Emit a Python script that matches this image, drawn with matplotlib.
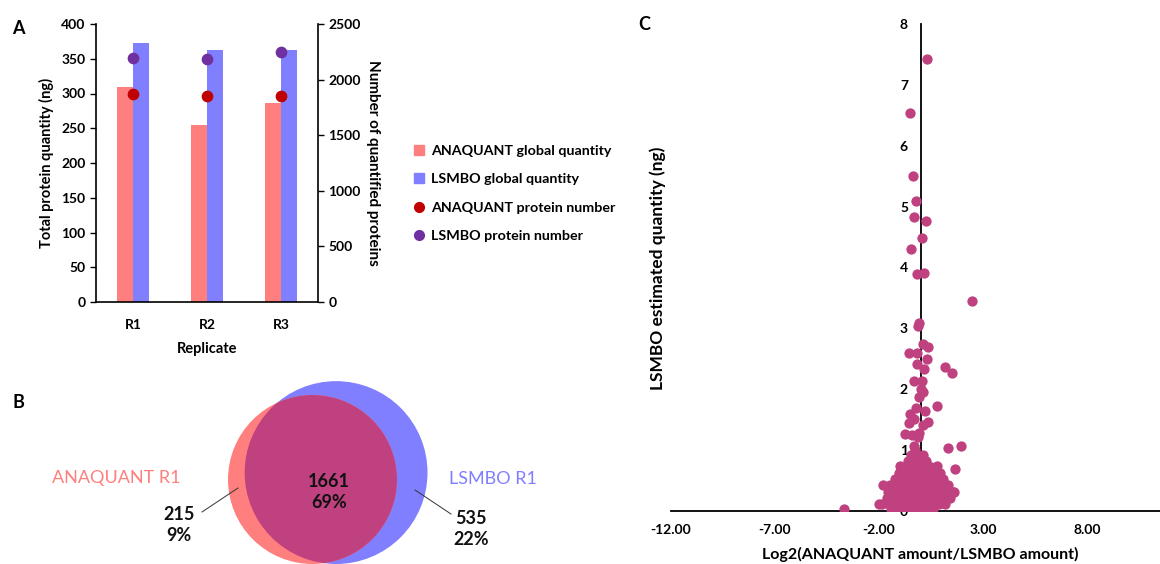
import numpy as np
import matplotlib
matplotlib.use("Agg")
import matplotlib.pyplot as plt
from matplotlib.patches import Circle
from matplotlib.lines import Line2D

plt.rcParams["font.family"] = ["Lato", "DejaVu Sans"]

# ---- panel A data
replicates = ["R1", "R2", "R3"]
anaquant_qty = [310, 254, 286]
lsmbo_qty = [372, 362, 363]
anaquant_prot = [1873, 1855, 1850]
lsmbo_prot = [2197, 2182, 2245]

# ---- panel B data
only_anaquant = 215
shared = 1661
only_lsmbo = 535
pct_anaquant = "9%"
pct_shared = "69%"
pct_lsmbo = "22%"

# ---- panel C data
log2_ratio = [
    0.29, -0.49, -0.35, -0.24, -0.32, 0.27, 0.08, -0.45, -0.18, 0.18, 2.50,
    -0.06, -0.11, 0.13, 0.34, -0.56, -0.19, 0.29, -0.19, 0.19, 1.17, 1.52,
    -0.30, 0.05, 0.02, 0.10, -0.08, 0.77, -0.21, 0.24, -0.50, -0.30, -0.56,
    0.34, 0.13, -0.75, -0.43, -0.08, -0.14, -0.30, 1.30, 1.97, 1.65, -1.00,
    -3.67, -2.00, -1.80, 1.60, 0.77,
    -1.4, -1.0, -0.6, -0.2, 0.2, 0.6,
    -1.85, -1.5, -1.1, -0.7, -0.3, 0.1, 0.5, 0.9, 1.2,
    -1.6, -1.25, -0.9, -0.55, -0.2, 0.15, 0.5, 0.85, 1.2, 1.4,
    -1.55, -1.2, -0.85, -0.5, -0.15, 0.2, 0.55, 0.9, 1.25, 1.55,
    -1.45, -1.1, -0.75, -0.4, -0.05, 0.3, 0.65, 1.0, 1.3,
    -1.25, -0.9, -0.55, -0.2, 0.15, 0.5, 0.85, 1.1,
    -1.05, -0.7, -0.35, 0.0, 0.35, 0.7, 0.95,
    -0.85, -0.5, -0.15, 0.2, 0.5,
    -0.6, -0.3, 0.0, 0.25,
    -0.45, -0.15, 0.1,
    -0.25,
]
lsmbo_est = [
    7.42, 6.54, 5.51, 5.09, 4.83, 4.77, 4.48, 4.31, 3.89, 3.91, 3.45,
    3.09, 3.04, 2.74, 2.70, 2.59, 2.59, 2.50, 2.41, 2.33, 2.36, 2.26,
    2.13, 2.13, 2.01, 1.95, 1.87, 1.72, 1.70, 1.64, 1.59, 1.51, 1.45,
    1.47, 1.41, 1.26, 1.25, 1.28, 1.22, 1.06, 1.03, 1.06, 0.69, 0.74,
    0.04, 0.11, 0.42, 0.32, 0.74,
    0.04, 0.04, 0.04, 0.04, 0.04, 0.04,
    0.12, 0.12, 0.12, 0.12, 0.12, 0.12, 0.12, 0.12, 0.12,
    0.22, 0.22, 0.22, 0.22, 0.22, 0.22, 0.22, 0.22, 0.22, 0.22,
    0.32, 0.32, 0.32, 0.32, 0.32, 0.32, 0.32, 0.32, 0.32, 0.32,
    0.42, 0.42, 0.42, 0.42, 0.42, 0.42, 0.42, 0.42, 0.42,
    0.52, 0.52, 0.52, 0.52, 0.52, 0.52, 0.52, 0.52,
    0.62, 0.62, 0.62, 0.62, 0.62, 0.62, 0.62,
    0.72, 0.72, 0.72, 0.72, 0.72,
    0.82, 0.82, 0.82, 0.82,
    0.92, 0.92, 0.92,
    1.00,
]

RED = "#FF7F7F"
BLUE = "#7F7FFF"
DOT_RED = "#C00000"
DOT_PURPLE = "#7030A0"
MIX = "#C0417F"

W, H = 1160, 564
fig = plt.figure(figsize=(W / 100, H / 100), dpi=100)


def box(x0, y0, x1, y1):
    # pixel box (top-left origin) -> figure fraction
    return [x0 / W, 1 - y1 / H, (x1 - x0) / W, (y1 - y0) / H]


# ================= A
ax = fig.add_axes(box(96, 24, 318, 302))
x = np.arange(len(replicates))
bw = 0.21
ax.bar(x - bw / 2, anaquant_qty, bw, color=RED, zorder=1)
ax.bar(x + bw / 2, lsmbo_qty, bw, color=BLUE, zorder=1)
ax.set_xlim(-0.5, 2.5)
ax.set_ylim(0, 400)
ax.set_yticks(range(0, 401, 50))
ax.set_xticks(x)
ax.set_xticklabels(replicates)
ax.tick_params(axis="x", length=0, pad=12)
ax.tick_params(axis="y", length=4, width=1)
for s in ["top", "right"]:
    ax.spines[s].set_visible(False)
ax.spines["left"].set_linewidth(1.2)
ax.spines["bottom"].set_linewidth(1.2)
ax.set_ylabel("Total protein quantity (ng)", fontsize=10.5, fontweight="bold", labelpad=5)
ax.set_xlabel("Replicate", fontsize=10.5, fontweight="bold", labelpad=8)

ax2 = ax.twinx()
ax2.scatter(x, anaquant_prot, s=55, color=DOT_RED, zorder=3)
ax2.scatter(x, lsmbo_prot, s=55, color=DOT_PURPLE, zorder=3)
ax2.set_ylim(0, 2500)
ax2.set_yticks(range(0, 2501, 500))
ax2.tick_params(axis="y", length=4, width=1)
for s in ["top", "left", "bottom"]:
    ax2.spines[s].set_visible(False)
ax2.spines["right"].set_linewidth(1.2)
ax2.set_ylabel("Number of quantified proteins", fontsize=11, fontweight="bold",
               rotation=270, labelpad=14)

for a in (ax, ax2):
    for lab in a.get_xticklabels() + a.get_yticklabels():
        lab.set_fontweight("bold")
        lab.set_fontsize(10)

handles = [
    Line2D([], [], marker="s", ls="", color=RED, markersize=7),
    Line2D([], [], marker="s", ls="", color=BLUE, markersize=7),
    Line2D([], [], marker="o", ls="", color=DOT_RED, markersize=7),
    Line2D([], [], marker="o", ls="", color=DOT_PURPLE, markersize=7),
]
labels = ["ANAQUANT global quantity", "LSMBO global quantity",
          "ANAQUANT protein number", "LSMBO protein number"]
fig.legend(handles, labels, loc="upper left", bbox_to_anchor=(400 / W, 1 - 132 / H),
           frameon=False, handlelength=0.8, handletextpad=0.45, labelspacing=1.15,
           prop={"size": 10.3, "weight": "bold"})

fig.text(12 / W, 1 - 28 / H, "A", fontsize=13, fontweight="bold", va="center")

# ================= B
axb = fig.add_axes(box(0, 380, 560, 564))
axb.set_xlim(0, 560)
axb.set_ylim(0, 184)
axb.axis("off")

n_a = only_anaquant + shared
n_l = only_lsmbo + shared
scale = 84.5 / np.sqrt(n_a)
r_a = scale * np.sqrt(n_a)
r_l = scale * np.sqrt(n_l)


def lens(d, r1, r2):
    a1 = np.arccos((d * d + r1 * r1 - r2 * r2) / (2 * d * r1))
    a2 = np.arccos((d * d + r2 * r2 - r1 * r1) / (2 * d * r2))
    return r1 * r1 * (a1 - np.sin(2 * a1) / 2) + r2 * r2 * (a2 - np.sin(2 * a2) / 2)


# centre distance so the overlap area matches the shared count
target = np.pi * r_a ** 2 * shared / n_a
lo, hi = abs(r_l - r_a) + 1e-6, r_a + r_l
for _ in range(60):
    mid = (lo + hi) / 2
    if lens(mid, r_a, r_l) > target:
        lo = mid
    else:
        hi = mid
d = (lo + hi) / 2
dy = r_l - r_a
dx = np.sqrt(max(d * d - dy * dy, 0))
ca = (312.5, r_a)
cl = (312.5 + dx, r_l)

axb.add_patch(Circle(cl, r_l, color=BLUE, lw=0))
axb.add_patch(Circle(ca, r_a, color=RED, lw=0))
c_mix = Circle(ca, r_a, color=MIX, lw=0)
axb.add_patch(c_mix)
c_mix.set_clip_path(Circle(cl, r_l, transform=axb.transData))

axb.text(116, 86, "ANAQUANT R1", color=RED, fontsize=13, ha="center", va="center")
axb.text(493, 85, "LSMBO R1", color=BLUE, fontsize=13, ha="center", va="center")
axb.text(329, 72, f"{shared}\n{pct_shared}", fontsize=13, fontweight="bold", ha="center",
         va="center", linespacing=1.3, color="#111111")
axb.text(179, 39, f"{only_anaquant}\n{pct_anaquant}", fontsize=13, fontweight="bold",
         ha="center", va="center", linespacing=1.3, color="#111111")
axb.text(471, 35, f"{only_lsmbo}\n{pct_lsmbo}", fontsize=13, fontweight="bold",
         ha="center", va="center", linespacing=1.3, color="#111111")
axb.plot([202, 238], [52, 76], color="#333333", lw=0.7)
axb.plot([415, 451], [74, 50], color="#333333", lw=0.7)

fig.text(12 / W, 1 - 402 / H, "B", fontsize=13, fontweight="bold", va="center")

# ================= C
axc = fig.add_axes(box(671, 24, 1170, 511))
axc.scatter(log2_ratio, lsmbo_est, s=55, color=MIX, lw=0, zorder=3)
axc.set_xlim(-12, 12)
axc.set_ylim(0, 8)
axc.set_xticks([-12, -7, -2, 3, 8])
axc.set_xticklabels([f"{v:.2f}" for v in [-12, -7, -2, 3, 8]])
axc.set_yticks(range(0, 9))
axc.spines["left"].set_position(("data", 0))
axc.spines["top"].set_visible(False)
axc.spines["right"].set_visible(False)
axc.spines["left"].set_linewidth(1.3)
axc.spines["bottom"].set_linewidth(1.3)
axc.tick_params(axis="both", length=0)
axc.tick_params(axis="y", pad=9)
axc.tick_params(axis="x", pad=9)
for lab in axc.get_xticklabels() + axc.get_yticklabels():
    lab.set_fontweight("bold")
    lab.set_fontsize(10)
axc.set_xlabel("Log2(ANAQUANT amount/LSMBO amount)", fontsize=11.5, fontweight="bold", labelpad=8)
fig.text(658 / W, 1 - 268 / H, "LSMBO estimated quantity (ng)", rotation=90, fontsize=12.5,
         fontweight="bold", ha="center", va="center")

fig.text(638 / W, 1 - 25 / H, "C", fontsize=13, fontweight="bold", va="center")

fig.savefig("out.png", dpi=100)
